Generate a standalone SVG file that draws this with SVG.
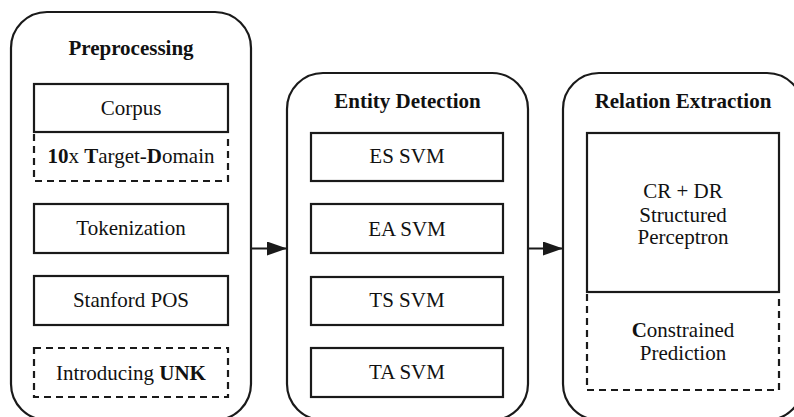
<svg xmlns="http://www.w3.org/2000/svg" width="794" height="417" viewBox="0 0 794 417">
<defs>
<style>
.panel{fill:#fff;stroke:#1a1a1a;stroke-width:2.2}
.box{fill:#fff;stroke:#1a1a1a;stroke-width:2.2}
.dash{fill:none;stroke:#1a1a1a;stroke-width:2.2;stroke-dasharray:7 5}
.t{font-family:'Liberation Serif', Tinos, 'DejaVu Serif', 'Noto Serif', serif;font-size:21px;fill:#111;text-anchor:middle}
.h{font-weight:bold}
.b{font-weight:bold}
.conn{stroke:#1a1a1a;stroke-width:2.2;fill:none}
</style>
<marker id="arr" markerWidth="22" markerHeight="16" refX="20" refY="7" orient="auto" markerUnits="userSpaceOnUse">
<path d="M0,0 L20,7 L0,14 Z" fill="#1a1a1a"/>
</marker>
</defs>
<rect width="794" height="417" fill="#fff"/>

<g id="preprocessing">
<rect class="panel" x="11" y="12" width="240" height="408" rx="36" ry="36"/>
<text class="t h" x="131" y="55">Preprocessing</text>
<g id="corpus">
<rect class="box" x="34" y="84" width="194" height="48"/>
<text class="t" x="131" y="115">Corpus</text>
</g>
<g id="target-domain">
<path class="dash" d="M34,134 V181 H228 V134"/>
<text class="t" x="131" y="163"><tspan class="b">10</tspan>x <tspan class="b">T</tspan>arget-<tspan class="b">D</tspan>omain</text>
</g>
<g id="tokenization">
<rect class="box" x="34" y="204" width="194" height="49"/>
<text class="t" x="131" y="235">Tokenization</text>
</g>
<g id="stanford-pos">
<rect class="box" x="34" y="276" width="194" height="49"/>
<text class="t" x="131" y="307">Stanford POS</text>
</g>
<g id="unk">
<rect class="dash" x="34" y="348" width="194" height="49"/>
<text class="t" x="131" y="379.5">Introducing <tspan class="b">UNK</tspan></text>
</g>
</g>

<g id="entity-detection">
<rect class="panel" x="287" y="73" width="241" height="347" rx="36" ry="36"/>
<text class="t h" x="407.5" y="107.5">Entity Detection</text>
<g id="es-svm">
<rect class="box" x="311" y="133" width="192" height="48"/>
<text class="t" x="407" y="163">ES SVM</text>
</g>
<g id="ea-svm">
<rect class="box" x="311" y="204" width="192" height="49"/>
<text class="t" x="407" y="235.5">EA SVM</text>
</g>
<g id="ts-svm">
<rect class="box" x="311" y="277" width="192" height="48"/>
<text class="t" x="407" y="307">TS SVM</text>
</g>
<g id="ta-svm">
<rect class="box" x="311" y="348" width="192" height="49"/>
<text class="t" x="407" y="379">TA SVM</text>
</g>
</g>

<g id="relation-extraction">
<rect class="panel" x="563" y="73" width="240" height="347" rx="36" ry="36"/>
<text class="t h" x="683" y="108">Relation Extraction</text>
<g id="perceptron">
<rect class="box" x="587" y="133" width="192" height="159"/>
<text class="t" x="683" y="198">CR + DR</text>
<text class="t" x="683" y="221.5">Structured</text>
<text class="t" x="683" y="244">Perceptron</text>
</g>
<g id="constrained">
<path class="dash" d="M587,294 V390 H779 V294"/>
<text class="t" x="683" y="336.5"><tspan class="b">C</tspan>onstrained</text>
<text class="t" x="683" y="359.5">Prediction</text>
</g>
</g>

<g id="connectors">
<line class="conn" x1="251" y1="248.5" x2="287" y2="248.5" marker-end="url(#arr)"/>
<line class="conn" x1="528" y1="248.5" x2="563" y2="248.5" marker-end="url(#arr)"/>
</g>
</svg>
